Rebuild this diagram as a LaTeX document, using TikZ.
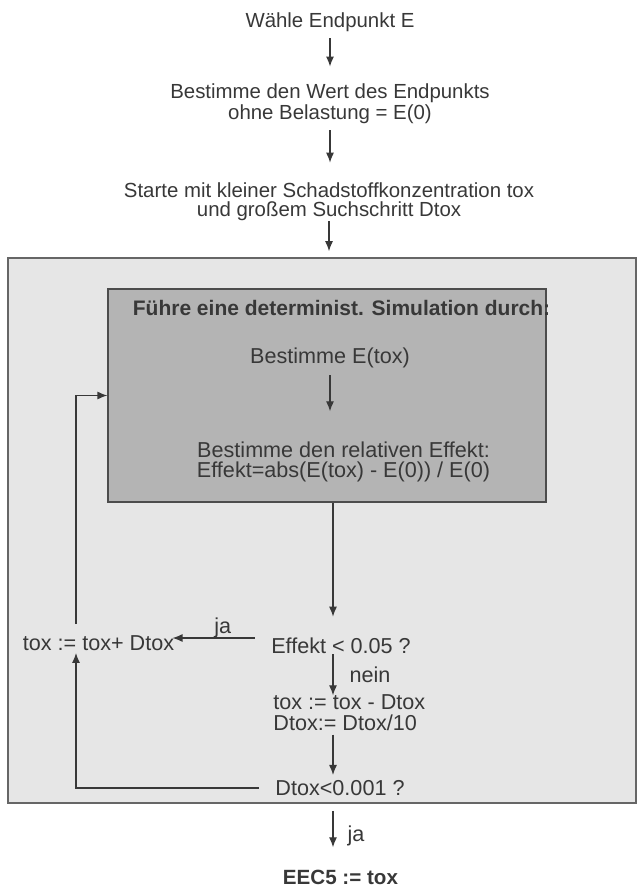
\documentclass[tikz,border=0pt]{standalone}
\usepackage{fontspec}
\setmainfont{Liberation Sans}
\usetikzlibrary{positioning, arrows.meta}
\definecolor{ink}{HTML}{383838}
\definecolor{outerfill}{HTML}{E6E6E6}
\definecolor{innerfill}{HTML}{B4B4B4}

\begin{document}
\begin{tikzpicture}[x=0.5pt,y=-0.5pt]
\tikzstyle{every node}=[font=\fontsize{10.2}{9.4}\selectfont,
                        text=ink,
                        align=center,
                        inner sep=1pt
                        ]
\tikzstyle{inner}=[font=\fontsize{10.8}{10.2}\selectfont]
\tikzstyle{heading}=[font=\fontsize{10.5}{10.5}\selectfont\bfseries]
\tikzstyle{flow}=[-{Latex[length=5pt,width=4pt]}, color=ink, semithick, shorten <=3pt, shorten >=5pt]
\tikzstyle{outerbox}=[draw=black!60, fill=outerfill, line width=0.8pt,
                      minimum width=314pt, minimum height=272.5pt]
\tikzstyle{innerbox}=[draw=black!70, fill=innerfill, line width=0.6pt,
                      minimum width=219pt, minimum height=106.5pt]
\useasboundingbox (0,0) rectangle (639,886);

% Rahmen
\node[outerbox] (outer) at (322,530.5) {};
\node[innerbox] (sim) at (327,395.5) {};
\coordinate (col) at (333,0);
\coordinate (loop) at (76,0);

% Texte
\node (wahl) at (330,22) {Wähle Endpunkt E};
\node (wert) at (330,104) {Bestimme den Wert des Endpunkts\\ohne Belastung = E(0)};
\node (start) at (329,202) {Starte mit kleiner Schadstoffkonzentration tox\\und großem Suchschritt Dtox};
\node[heading] (titel) at (341.5,308) {Führe eine determinist. Simulation durch:};
\node[inner] (etox) at (330,358) {Bestimme E(tox)};
\node[inner] (eff) at (343.5,462) {Bestimme den relativen Effekt:\\Effekt=abs(E(tox) - E(0)) / E(0)};
\node[inner] (test1) at (341,646) {Effekt < 0.05 ?};
\node[inner] (plus) at (98.5,643) {tox := tox+ Dtox};
\node[inner, anchor=west, align=left] (upd) at (271,712.5) {tox := tox - Dtox\\Dtox:= Dtox/10};
\node[inner] (test2) at (340,788) {Dtox<0.001 ?};
\node[font=\fontsize{10.3}{10.3}\selectfont\bfseries] (eec) at (340.5,877) {EEC5 := tox};

% Pfeile
\draw[flow, shorten <=2.2pt, shorten >=7.5pt] (wahl) -- (wahl |- wert.north);
\draw[flow, shorten <=2pt, shorten >=9pt] (wert.south) -- (wert.south |- start.north);
\draw[flow, shorten <=-1pt, shorten >=3pt] (start.south) -- (start.south |- outer.north);
\draw[flow, shorten <=2.5pt, shorten >=14pt] (etox.south) -- (etox.south |- eff.north);
\draw[flow, shorten <=0pt, shorten >=9.5pt] (sim.south -| col) -- (test1.north -| col);
\draw[flow, shorten <=-1pt, shorten >=-1.5pt] (test1.south -| col) -- node[inner, right=7pt] {nein} (upd.north -| col);
\draw[flow, shorten <=1pt, shorten >=1.5pt] (upd.south -| col) -- (test2.north -| col);
\draw[flow, shorten <=7pt, shorten >=-2pt] ([yshift=4pt]test1.west) -- node[inner, above=-1.5pt] {ja} ([yshift=4pt]test1.west -| plus.east);
\draw[flow, shorten <=4.5pt, shorten >=0pt] (plus.north -| loop) |- (sim.west);
\draw[flow, shorten <=7pt, shorten >=0pt] (test2.west) -| (plus.south -| loop);
\draw[flow, shorten <=3.5pt, shorten >=10pt] (outer.south -| col) -- node[inner, right=6pt] {ja} (eec.north -| col);

\end{tikzpicture}
\end{document}
